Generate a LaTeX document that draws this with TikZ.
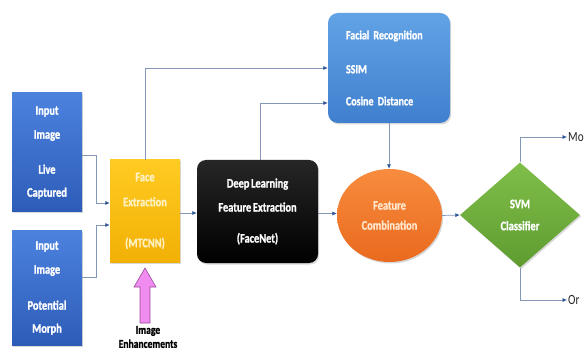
\documentclass[tikz,border=0pt]{standalone}
\usepackage{fontspec}
\setmainfont{Carlito}[FakeStretch=0.8,WordSpace=0.7,BoldFeatures={FakeBold=1.2}]
\usetikzlibrary{shapes.geometric,arrows.meta,shadows}
\definecolor{inblueT}{HTML}{4C82DE}
\definecolor{inblueB}{HTML}{2C5CB8}
\definecolor{mblueT}{HTML}{62A3E6}
\definecolor{mblueB}{HTML}{3F7FCE}
\definecolor{yelT}{HTML}{FFCB22}
\definecolor{yelB}{HTML}{F2B005}
\definecolor{yeltext}{HTML}{FFF1C2}
\definecolor{orT}{HTML}{F88C3E}
\definecolor{orB}{HTML}{E96A1E}
\definecolor{orText}{HTML}{FFE6CC}
\definecolor{grT}{HTML}{80BE4A}
\definecolor{grB}{HTML}{5E9C30}
\definecolor{linec}{HTML}{8298B6}
\definecolor{tipc}{HTML}{2F5597}
\definecolor{pinkf}{HTML}{F08CF0}
\definecolor{pinkd}{HTML}{9A4A9A}
\tikzset{
  shad/.style={drop shadow={opacity=0.3,shadow xshift=1.2pt,shadow yshift=-1.5pt}},
  bigfont/.style={font=\fontsize{13}{15}\selectfont\bfseries},
  inbox/.style={shad,top color=inblueT,bottom color=inblueB,text=white,align=center,
    minimum width=70pt,inner sep=0pt,bigfont},
  facebox/.style={shad,top color=yelT,bottom color=yelB,text=yeltext,align=center,
    minimum width=70pt,minimum height=102pt,inner sep=0pt,bigfont},
  deepbox/.style={shad,top color=black!85,bottom color=black,rounded corners=9pt,text=white,align=center,
    minimum width=121pt,minimum height=103pt,inner sep=0pt,bigfont},
  metbox/.style={shad,top color=mblueT,bottom color=mblueB,rounded corners=10pt,text=white,align=left,
    text width=86pt,inner xsep=18pt,minimum height=110pt,inner ysep=0pt,font=\fontsize{12.5}{15}\selectfont\bfseries},
  combshape/.style={shad,ellipse,top color=orT,bottom color=orB,text=orText,align=center,
    minimum width=105pt,minimum height=93pt,inner sep=0pt,bigfont},
  svmshape/.style={shad,diamond,top color=grT,bottom color=grB,text=white,align=center,
    minimum width=120pt,minimum height=105pt,inner sep=0pt,bigfont},
  outtext/.style={anchor=west,inner sep=1pt,font=\fontsize{14}{16}\selectfont,text=black!85},
  conn/.style={draw=linec,line width=0.7pt,-{Latex[length=4.5pt,width=4pt,color=tipc]}},
}
\begin{document}
\begin{tikzpicture}[x=1pt,y=-1pt]
\useasboundingbox (0,0) rectangle (585,352);
\fill[white] (0,0) rectangle (585,352);

\node[inbox,minimum height=119pt] (in1) at (47,152.5) {Input\\[9pt]Image\\[20pt]Live\\[8pt]Captured};
\node[inbox,minimum height=115pt] (in2) at (47,288) {Input\\[9pt]Image\\[21pt]Potential\\[8pt]Morph};
\node[facebox] (face) at (145,211) {Face\\[10pt]Extraction\\[26pt](MTCNN)};
\node[deepbox] (deep) at (257.5,211.5) {Deep Learning\\[9pt]Feature Extraction\\[16pt](FaceNet)};
\node[metbox] (met) at (389,68) {Facial Recognition\\[19pt]SSIM\\[17pt]Cosine Distance};
\node[combshape] (comb) at (389.5,215.5) {Feature\\[5pt]Combination};
\node[svmshape] (svm) at (520,215) {SVM\\[7pt]Classifier};
\node[outtext] (mo) at (567,137) {Mo};
\node[outtext] (or) at (567,300) {Or};
\node[align=center,inner sep=0pt,font=\fontsize{12}{14}\selectfont\bfseries] (enh) at (148,337) {Image\\Enhancements};

% pink arrow
\filldraw[fill=pinkf,draw=pinkd,line width=0.6pt]
  (140,323) -- (140,287) -- (134,287) -- (145,268) -- (156,287) -- (150,287) -- (150,323) -- cycle;

\draw[conn] ([yshift=-2.5pt]in1.east) -- ++(14,0) |- ([yshift=8pt]face.west);
\draw[conn] ([yshift=11pt]in2.east) -- ++(14,0) |- ([yshift=-14pt]face.west);
\draw[conn] (face.north) |- (met.west);
\draw[conn] ([xshift=2.5pt]deep.north) |- ([yshift=-35pt]met.west);
\draw[conn] ([yshift=-2pt]face.east) -- ([yshift=-2pt]face.east -| deep.west);
\draw[conn] ([yshift=-2pt]deep.east) -- ([yshift=-2pt]deep.east -| comb.west);
\draw[conn] (met.south) -- (met.south |- comb.north);
\draw[conn] (comb.east) -- (svm.west);
\draw[conn] (svm.north) |- (mo.west);
\draw[conn] (svm.south) |- (or.west);
\end{tikzpicture}
\end{document}
